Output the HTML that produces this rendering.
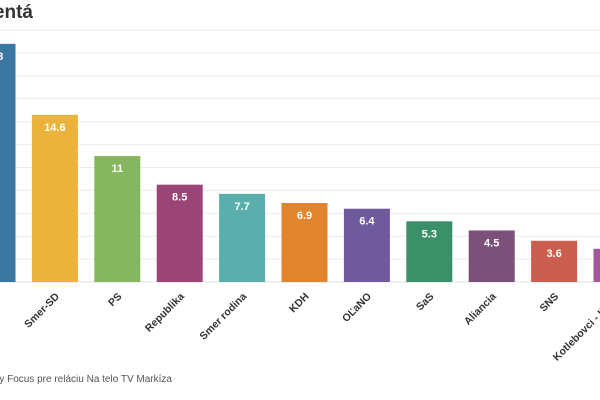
<!DOCTYPE html>
<html><head><meta charset="utf-8"><style>
body{margin:0;width:600px;height:400px;overflow:hidden;background:#fff;font-family:"Liberation Sans",sans-serif}
svg{display:block}
</style></head><body>
<svg id="chart" width="600" height="400">
<text x="33" y="18" text-anchor="end" font-size="19" font-weight="bold" fill="#333">Volebné preferencie v percentá</text>
<g id="grid"></g><g id="bars"></g><g id="labels"></g>
<text x="172" y="382" text-anchor="end" font-size="10" fill="#555">Zdroj: prieskum agentúry Focus pre reláciu Na telo TV Markíza</text>
</svg>
<script>
const categories=["Hlas-SD","Smer-SD","PS","Republika","Smer rodina","KDH","OĽaNO","SaS","Aliancia","SNS","Kotlebovci - ĽSNS"];
const values=[20.8,14.6,11,8.5,7.7,6.9,6.4,5.3,4.5,3.6,2.9];
const colors=["#3b77a0","#ebb33c","#86b660","#9b4577","#5aafac","#e0842e","#6e5a9c","#3a9068","#7b5079","#cb5e4f","#a4559d"];
const gridTicks=[0,2,4,6,8,10,12,14,16,18,20,22];
const ns="http://www.w3.org/2000/svg";
const base=282, ppu=11.45, x0=-7.5, step=62.4, bw=46;
const y=v=>base-v*ppu, xc=i=>x0+i*step;
const grid=document.getElementById('grid'),bars=document.getElementById('bars'),labels=document.getElementById('labels');
gridTicks.forEach(t=>{const l=document.createElementNS(ns,'line');


l.setAttribute('x1',0);l.setAttribute('x2',600);l.setAttribute('y1',y(t));l.setAttribute('y2',y(t));
l.setAttribute('stroke',t===0?'#e0e0e0':'#ececec');l.setAttribute('stroke-width',1);grid.appendChild(l);});
values.forEach((v,i)=>{const r=document.createElementNS(ns,'rect');


r.setAttribute('x',xc(i)-bw/2);r.setAttribute('y',y(v));r.setAttribute('width',bw);r.setAttribute('height',v*ppu);r.setAttribute('fill',colors[i]);bars.appendChild(r);
const t=document.createElementNS(ns,'text');


t.setAttribute('x',xc(i));t.setAttribute('y',y(v)+16);t.setAttribute('text-anchor','middle');t.setAttribute('font-size','11');t.setAttribute('font-weight','bold');t.setAttribute('fill','#fff');t.textContent=v;bars.appendChild(t);
const c=document.createElementNS(ns,'text');


c.setAttribute('transform','translate('+(xc(i)+5)+',297) rotate(-45)');c.setAttribute('text-anchor','end');c.setAttribute('font-size','10.5');c.setAttribute('font-weight','bold');c.setAttribute('fill','#333');c.textContent=categories[i];labels.appendChild(c);});
</script>
</body></html>
